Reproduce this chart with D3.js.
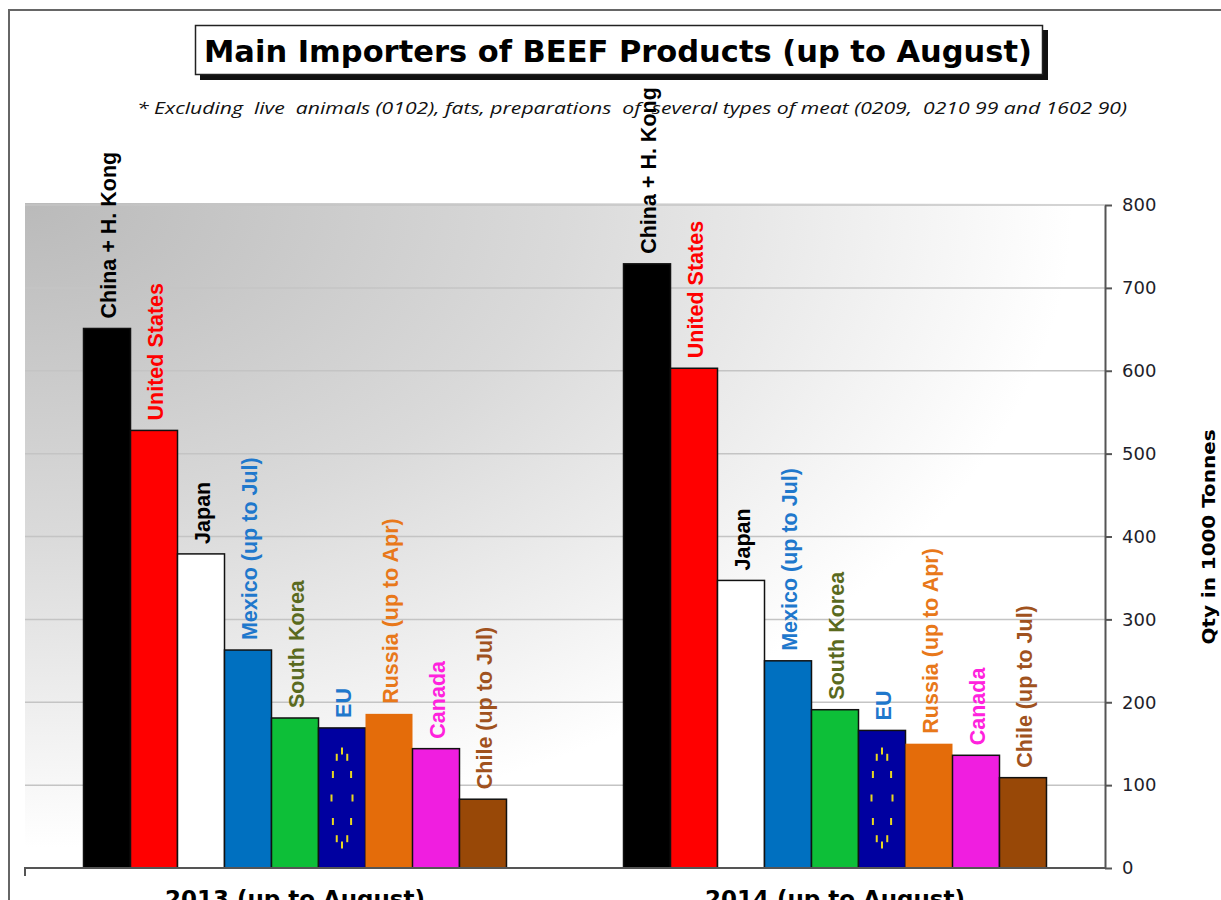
<!DOCTYPE html>
<html><head><meta charset="utf-8">
<script src="https://cdn.jsdelivr.net/npm/d3@7"></script>
<style>html,body{margin:0;padding:0;background:#fff;overflow:hidden}</style>
</head><body>
<svg id="chart" width="1221" height="900"></svg>
<script>
const years = ["2013 (up to August)", "2014 (up to August)"];
const countries = ["China + H. Kong","United States","Japan","Mexico (up to Jul)","South Korea","EU","Russia (up to Apr)","Canada","Chile (up to Jul)"];
const values2013 = [651, 528, 379, 263, 181, 169, 186, 144, 83];
const values2014 = [729, 603, 347, 250, 191, 166, 150, 136, 109];
const yTicks = [0, 100, 200, 300, 400, 500, 600, 700, 800];
const barColors = ["#000000","#ff0000","#ffffff","#0070c0","#0dbf38","#0000a0","#e46c0a","#f01ee0","#984807"];
const labelColors = ["#000000","#ff0000","#000000","#1f78cc","#5a6a1e","#1f78cc","#e8781a","#ff22dd","#a0521e"];
const seriesValues = [values2013, values2014];

const svg = d3.select("#chart");
const L = 25, R = 1105, T = 205, B = 868;

// outer frame
svg.append("path").attr("d", `M9,900 L9,10 L1221,10`).attr("fill","none").attr("stroke","#666").attr("stroke-width",2);

// gradient
const defs = svg.append("defs");
const rg = defs.append("radialGradient").attr("id","bg").attr("cx",0).attr("cy",0).attr("r",1).attr("fx",0).attr("fy",0);
rg.append("stop").attr("offset",0).attr("stop-color","#bababa");
rg.append("stop").attr("offset",0.5).attr("stop-color","#dadada");
rg.append("stop").attr("offset",0.97).attr("stop-color","#ffffff");
svg.append("rect").attr("x",L).attr("y",T-2).attr("width",R-L).attr("height",B-T+2).attr("fill","url(#bg)");

const y = d3.scaleLinear().domain([0, 800]).range([B, T]);
const x0 = d3.scaleBand().domain(years).range([L, R]).padding(0);
const x1 = d3.scaleBand().domain(countries).range([0, x0.bandwidth()]).paddingInner(0).paddingOuter(1.245);

// gridlines
svg.append("g").selectAll("line").data(yTicks.filter(d => d > 0)).join("line")
  .attr("x1", L).attr("x2", R).attr("y1", d => y(d)).attr("y2", d => y(d))
  .attr("stroke","#c4c4c4").attr("stroke-width",1.5);

// bars
const groups = svg.append("g").selectAll("g").data(years).join("g")
  .attr("transform", d => `translate(${x0(d)},0)`);

groups.each(function(yr, yi) {
  const g = d3.select(this);
  const data = countries.map((c, i) => ({c, i, v: seriesValues[yi][i]}));
  g.selectAll("rect").data(data).join("rect")
    .attr("x", d => x1(d.c)).attr("width", x1.bandwidth())
    .attr("y", d => y(d.v)).attr("height", d => y(0) - y(d.v))
    .attr("fill", d => barColors[d.i])
    .attr("stroke", d => d.i === 6 ? "none" : "#111")
    .attr("stroke-width", 1.5);
  // EU stars
  const eu = data[5];
  const cx = x1(eu.c) + x1.bandwidth() / 2, cy = y(0) - 70;
  g.selectAll("rect.star").data(d3.range(12)).join("rect").attr("class","star")
    .attr("x", k => cx + 10.5 * Math.cos(k * Math.PI / 6) - 1)
    .attr("y", k => cy - 47 * Math.sin(k * Math.PI / 6) - 3.5)
    .attr("width", 2).attr("height", 7).attr("fill", "#e8d820");
  // labels
  g.selectAll("text.lbl").data(data).join("text").attr("class","lbl")
    .attr("transform", d => `translate(${x1(d.c) + x1.bandwidth()/2 + 2},${y(d.v) - 10}) rotate(-90)`)
    .attr("dominant-baseline","central")
    .attr("font-family","'Liberation Sans', Arial, sans-serif")
    .attr("font-weight","bold").attr("font-size", 21.5)
    .attr("fill", d => labelColors[d.i])
    .text(d => d.c);
});

// y axis (right)
const yAxis = d3.axisRight(y).tickValues(yTicks).tickSize(7).tickPadding(10).tickSizeOuter(0);
const ya = svg.append("g").attr("transform", `translate(${R},0)`).call(yAxis);
ya.select(".domain").attr("stroke","#555").attr("stroke-width",2);
ya.selectAll(".tick line").attr("stroke","#555").attr("stroke-width",2);
ya.selectAll(".tick text").attr("font-family","'DejaVu Sans', Verdana, sans-serif").attr("font-size",18).attr("fill","#1e1e2a");

// x axis line
svg.append("path").attr("d", `M${L},${B+8} L${L},${B} L${R},${B}`).attr("fill","none").attr("stroke","#555").attr("stroke-width",2);

// category labels
svg.append("g").selectAll("text").data(years).join("text")
  .attr("x", d => x0(d) + x0.bandwidth()/2).attr("y", 907)
  .attr("text-anchor","middle")
  .attr("font-family","'DejaVu Sans', Verdana, sans-serif").attr("font-weight","bold").attr("font-size",23)
  .attr("textLength", 260).attr("lengthAdjust","spacingAndGlyphs")
  .attr("fill","#000").text(d => d);

// y axis title
svg.append("text").attr("transform", `translate(1209,537) rotate(-90)`)
  .attr("text-anchor","middle").attr("dominant-baseline","central")
  .attr("font-family","'DejaVu Sans', Verdana, sans-serif").attr("font-weight","bold").attr("font-size",17)
  .attr("textLength",215).attr("lengthAdjust","spacingAndGlyphs")
  .attr("fill","#000").text("Qty in 1000 Tonnes");

// title box
svg.append("rect").attr("x",200).attr("y",30).attr("width",848).attr("height",50).attr("fill","#111");
svg.append("rect").attr("x",195.5).attr("y",25.5).attr("width",847).attr("height",49).attr("fill","#fff").attr("stroke","#222").attr("stroke-width",1.5);
svg.append("text").attr("x",618).attr("y",62).attr("text-anchor","middle")
  .attr("font-family","'DejaVu Sans', Verdana, sans-serif").attr("font-weight","bold").attr("font-size",31)
  .attr("textLength",828).attr("lengthAdjust","spacingAndGlyphs")
  .attr("fill","#000").text("Main Importers of BEEF Products (up to August)");

// subtitle
svg.append("text").attr("x",137).attr("y",114)
  .attr("font-family","'Open Sans', 'Noto Sans', sans-serif").attr("font-style","italic").attr("font-size",16)
  .attr("textLength",990).attr("lengthAdjust","spacingAndGlyphs")
  .attr("fill","#111").attr("xml:space","preserve")
  .text("* Excluding  live  animals (0102), fats, preparations  of  several types of meat (0209,  0210 99 and 1602 90)");
</script>
</body></html>
